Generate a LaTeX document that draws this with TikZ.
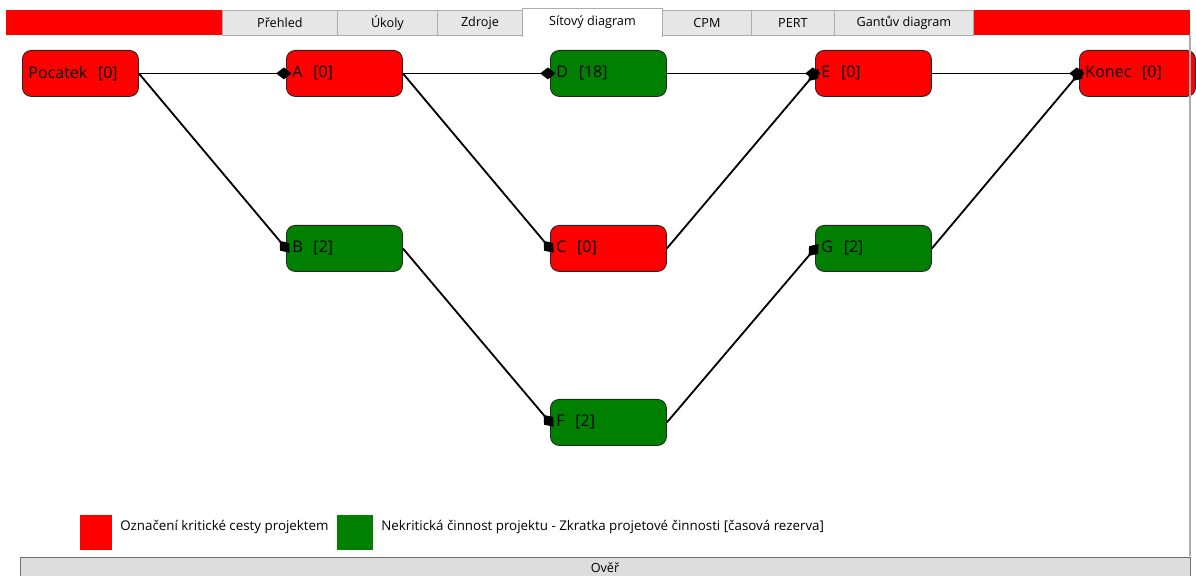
\documentclass[tikz,border=0pt]{standalone}
\usepackage{fontspec}
\setmainfont{Open Sans}
\usetikzlibrary{arrows.meta}
\definecolor{crit}{HTML}{FF0000}
\definecolor{noncrit}{HTML}{008000}
\definecolor{tabfill}{HTML}{E6E6E6}
\definecolor{tabline}{HTML}{ACACAC}
\definecolor{btnfill}{HTML}{DDDDDD}
\definecolor{btnline}{HTML}{707070}
\tikzset{
  act/.style={draw=black!85, line width=0.6pt, rounded corners=0.22cm, anchor=north west,
    minimum width=2.9cm, minimum height=1.15cm, text width=2.6cm, inner xsep=0.12cm,
    align=left, font=\fontsize{11.4}{13}\selectfont},
  critbox/.style={act, fill=crit},
  okbox/.style={act, fill=noncrit},
  link/.style={line width=1.3pt, -{Diamond[length=11pt 0 0,width=8.5pt 0 0]}, shorten >=-4pt},
  tab/.style={draw=tabline, fill=tabfill, line width=0.6pt, anchor=north west, minimum height=0.625cm,
    inner sep=0pt, font=\fontsize{9}{10}\selectfont},
  legtext/.style={anchor=west, inner sep=0pt, font=\fontsize{9.5}{10}\selectfont},
}
\begin{document}
\begin{tikzpicture}[x=0.025cm, y=-0.025cm]
\useasboundingbox (0,0) rectangle (1196,576);
% top bar
\fill[crit] (6,10) rectangle (222,35);
\fill[crit] (973,10) rectangle (1190,35);
\node[tab, minimum width=2.875cm] (t1) at (222,10) {Přehled};
\node[tab, minimum width=2.5cm] (t2) at (337,10) {Úkoly};
\node[tab, minimum width=2.125cm] (t3) at (437,10) {Zdroje};
\node[tab, fill=white, draw=none, minimum width=3.5cm, minimum height=0.7cm] (t4) at (522,8) {Sítový diagram};
\draw[tabline, line width=0.6pt] (522,37) -- (522,8) -- (662,8) -- (662,37);
\node[tab, minimum width=2.225cm] (t5) at (662,10) {CPM};
\node[tab, minimum width=2.075cm] (t6) at (751,10) {PERT};
\node[tab, minimum width=3.475cm] (t7) at (834,10) {Gantův diagram};
% activities
\node[critbox] (P) at (22,50) {Pocatek\ \ [0]};
\node[critbox] (A) at (286,50) {A\ \ [0]};
\node[okbox] (D) at (550,50) {D\ \ [18]};
\node[critbox] (E) at (815,50) {E\ \ [0]};
\node[critbox] (K) at (1079,50) {Konec\ \ [0]};
\node[okbox] (B) at (286,225) {B\ \ [2]};
\node[critbox] (C) at (550,225) {C\ \ [0]};
\node[okbox] (G) at (815,225) {G\ \ [2]};
\node[okbox] (F) at (550,399) {F\ \ [2]};
% right frame line
\draw[tabline, line width=0.8pt] (1190,35) -- (1190,556);
% links
\draw[link] (P.east) -- (A.west);
\draw[link] (P.east) -- (B.west);
\draw[link] (A.east) -- (D.west);
\draw[link] (A.east) -- (C.west);
\draw[link] (D.east) -- (E.west);
\draw[link] (C.east) -- (E.west);
\draw[link] (E.east) -- (K.west);
\draw[link] (B.east) -- (F.west);
\draw[link] (F.east) -- (G.west);
\draw[link] (G.east) -- (K.west);
% legend
\fill[crit] (80,515) rectangle (112,550);
\node[legtext] (l1) at (120,527) {Označení kritické cesty projektem};
\fill[noncrit] (337,515) rectangle (373,550);
\node[legtext] (l2) at (381,527) {Nekritická činnost projektu - Zkratka projetové činnosti [časová rezerva]};
% button
\draw[btnline, fill=btnfill, line width=0.6pt] (20,557) rectangle (1190,580);
\node[font=\fontsize{9}{10}\selectfont, inner sep=0pt] (ov) at (605,568) {Ověř};
\end{tikzpicture}
\end{document}
